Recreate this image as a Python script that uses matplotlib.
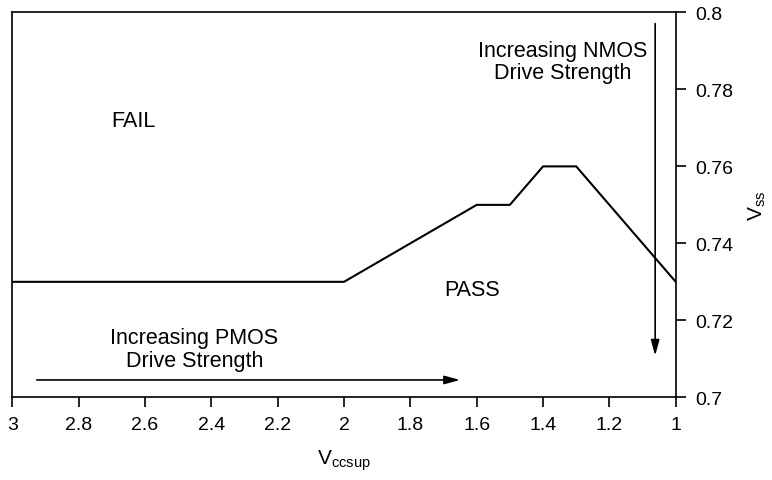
import matplotlib
matplotlib.use("Agg")
import matplotlib.pyplot as plt

# boundary between pass / fail regions
vccsup = [3.0, 2.0, 1.6, 1.5, 1.4, 1.3, 1.0]
vss = [0.73, 0.73, 0.75, 0.75, 0.76, 0.76, 0.73]

xticks = [3, 2.8, 2.6, 2.4, 2.2, 2, 1.8, 1.6, 1.4, 1.2, 1]
xtick_labels = ["3", "2.8", "2.6", "2.4", "2.2", "2", "1.8", "1.6", "1.4", "1.2", "1"]
yticks = [0.7, 0.72, 0.74, 0.76, 0.78, 0.8]
ytick_labels = ["0.7", "0.72", "0.74", "0.76", "0.78", "0.8"]

plt.rcParams["font.family"] = ["Liberation Sans", "DejaVu Sans"]

fig = plt.figure(figsize=(7.72, 4.81), dpi=100)
ax = fig.add_axes([0.0159, 0.172, 0.8594, 0.8])

ax.plot(vccsup, vss, color="black", linewidth=1.5)

ax.set_xlim(3, 1)
ax.set_ylim(0.7, 0.8)
ax.set_xticks(xticks)
ax.set_xticklabels(xtick_labels)
ax.set_yticks(yticks)
ax.set_yticklabels(ytick_labels)
ax.yaxis.tick_right()
ax.yaxis.set_label_position("right")
ax.tick_params(direction="out", length=7.2, width=1.2, labelsize=14, pad=6.5)
for s in ax.spines.values():
    s.set_linewidth(1.2)

ax.set_xlabel(r"V$_{\mathregular{ccsup}}$", fontsize=15, labelpad=10)
ax.set_ylabel(r"V$_{\mathregular{ss}}$", fontsize=15, labelpad=10)

arrow = dict(arrowstyle="-|>,head_length=0.55,head_width=0.15", color="black",
             lw=1.2, mutation_scale=17, shrinkA=0, shrinkB=0)
ax.annotate("", xy=(1.65, 0.7045), xytext=(2.926, 0.7045), arrowprops=arrow)
ax.annotate("", xy=(1.062, 0.7108), xytext=(1.062, 0.7971), arrowprops=arrow)

ax.text(2.451, 0.7126, "Increasing PMOS\nDrive Strength", ha="center", va="center",
        fontsize=15.5, linespacing=1.1)
ax.text(1.341, 0.7873, "Increasing NMOS\nDrive Strength", ha="center", va="center",
        fontsize=15.5, linespacing=1.1)
ax.text(2.635, 0.7718, "FAIL", ha="center", va="center", fontsize=15.5)
ax.text(1.613, 0.728, "PASS", ha="center", va="center", fontsize=15.5)

fig.savefig("out.png", dpi=100)
